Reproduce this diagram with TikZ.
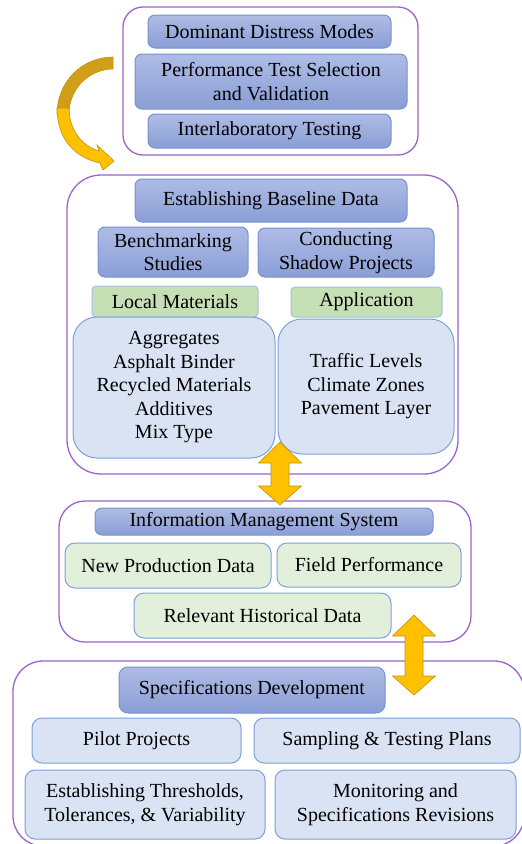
\documentclass[tikz,border=0pt]{standalone}
\usepackage{fontspec}
\setmainfont{Liberation Serif}

\definecolor{frameline}{RGB}{155,100,200}
\definecolor{headtop}{RGB}{174,188,229}
\definecolor{headbot}{RGB}{138,158,214}
\definecolor{headline}{RGB}{118,146,208}
\definecolor{greenhead}{RGB}{197,224,180}
\definecolor{greenfill}{RGB}{226,239,218}
\definecolor{bluefill}{RGB}{218,227,243}
\definecolor{boxline}{RGB}{125,160,220}
\definecolor{golddark}{RGB}{208,158,24}
\definecolor{goldlight}{RGB}{255,192,0}
\definecolor{goldline}{RGB}{196,146,10}

% two-headed block arrow: centre x, top y, bottom y
\newcommand{\twoway}[3]{%
  \filldraw[goldarrow] (#1,#2) -- (#1+21.5,#2+21) -- (#1+9,#2+21) -- (#1+9,#3-19)
      -- (#1+21.5,#3-19) -- (#1,#3) -- (#1-21.5,#3-19) -- (#1-9,#3-19)
      -- (#1-9,#2+21) -- (#1-21.5,#2+21) -- cycle;}

\begin{document}
\begin{tikzpicture}[x=1pt, y=-1pt,
                    font=\fontsize{20}{23.5}\selectfont,
                    line width=1pt,
                    ]
    \tikzstyle{frame}=[draw=frameline, line width=1.3pt, fill=white, inner sep=0pt]
    \tikzstyle{box}=[rounded corners=7pt, align=center, inner sep=0pt]
    \tikzstyle{header}=[box, draw=headline, top color=headtop, bottom color=headbot];
    \tikzstyle{tag}=[box, draw=boxline!70, fill=greenhead, rounded corners=4pt];
    \tikzstyle{item}=[box, draw=boxline, fill=bluefill, rounded corners=10pt];
    \tikzstyle{datum}=[box, draw=boxline, fill=greenfill, rounded corners=10pt];
    \tikzstyle{goldarrow}=[fill=goldlight, draw=goldline, line width=0.6pt];

    \useasboundingbox (0,0) rectangle (522,844);
    \clip (0,0) rectangle (522,844);

    % containers
    \node[frame, rounded corners=20pt, minimum width=295, minimum height=148] (testing) at (270.5,81) {};
    \node[frame, rounded corners=34pt, minimum width=391, minimum height=299] (baseline) at (262.5,324.5) {};
    \node[frame, rounded corners=26pt, minimum width=412, minimum height=141] (ims) at (265,571.5) {};
    \node[frame, rounded corners=30pt, minimum width=511, minimum height=185] (specs) at (268.5,753.5) {};

    % performance testing
    \node[header, minimum width=243, minimum height=33] (distress) at (269.5,31.5) {Dominant Distress Modes};
    \node[header, minimum width=272, minimum height=55] (selection) at (271,81.5) {Performance Test Selection\\and Validation};
    \node[header, minimum width=243, minimum height=34] (interlab) at (269.5,131) {Interlaboratory Testing};

    % baseline data
    \node[header, minimum width=272, minimum height=43] (establish) at (271,200.5) {Establishing Baseline Data};
    \node[header, minimum width=150, minimum height=50] (bench) at (173,252) {Benchmarking\\Studies};
    \node[header, minimum width=176, minimum height=49] (shadow) at (346,252.5) {Conducting\\Shadow Projects};
    \node[tag, minimum width=166, minimum height=31] (local) at (175,301.5) {Local Materials};
    \node[tag, minimum width=151, minimum height=30] (appl) at (366.5,302) {Application};
    \node[item, rounded corners=24pt, minimum width=202, minimum height=141] (materials) at (174,387.5)
        {Aggregates\\Asphalt Binder\\Recycled Materials\\Additives\\Mix Type};
    \node[item, rounded corners=24pt, minimum width=176, minimum height=135] (usage) at (366,386.5)
        {Traffic Levels\\Climate Zones\\Pavement Layer};

    % information management
    \node[header, minimum width=338, minimum height=27] (infosys) at (264,521.5) {Information Management System};
    \node[datum, minimum width=206, minimum height=45] (newprod) at (168,565.5) {New Production Data};
    \node[datum, minimum width=184, minimum height=44] (field) at (369,565) {Field Performance};
    \node[datum, minimum width=257, minimum height=45] (history) at (262.5,615.5) {Relevant Historical Data};

    % specifications
    \node[header, rounded corners=9pt, minimum width=266, minimum height=46] (specdev) at (252,690) {Specifications Development};
    \node[item, minimum width=209, minimum height=45] (pilot) at (136.5,740.5) {Pilot Projects};
    \node[item, minimum width=266, minimum height=45] (sampling) at (387,740.5) {Sampling \& Testing Plans};
    \node[item, minimum width=240, minimum height=69] (thresh) at (145,804.5) {Establishing Thresholds,\\Tolerances, \& Variability};
    \node[item, minimum width=241, minimum height=69] (revise) at (395.5,804.5) {Monitoring and\\Specifications Revisions};

    % curved arrow into the baseline block
    \filldraw[fill=golddark, draw=goldline, line width=0.6pt]
        (113,57) .. controls (82,57) and (57,82) .. (57,114) -- (69,114)
        .. controls (69,88) and (90,69) .. (113,69) -- cycle;
    \filldraw[goldarrow]
        (57,108) .. controls (57,140) and (76,158) .. (100,163) -- (103,170) -- (114,161)
        -- (97,145) -- (99,151) .. controls (82,146) and (69,130) .. (69,108) -- cycle;

    \twoway{280}{442}{505}
    \twoway{414}{615}{695}
\end{tikzpicture}
\end{document}
